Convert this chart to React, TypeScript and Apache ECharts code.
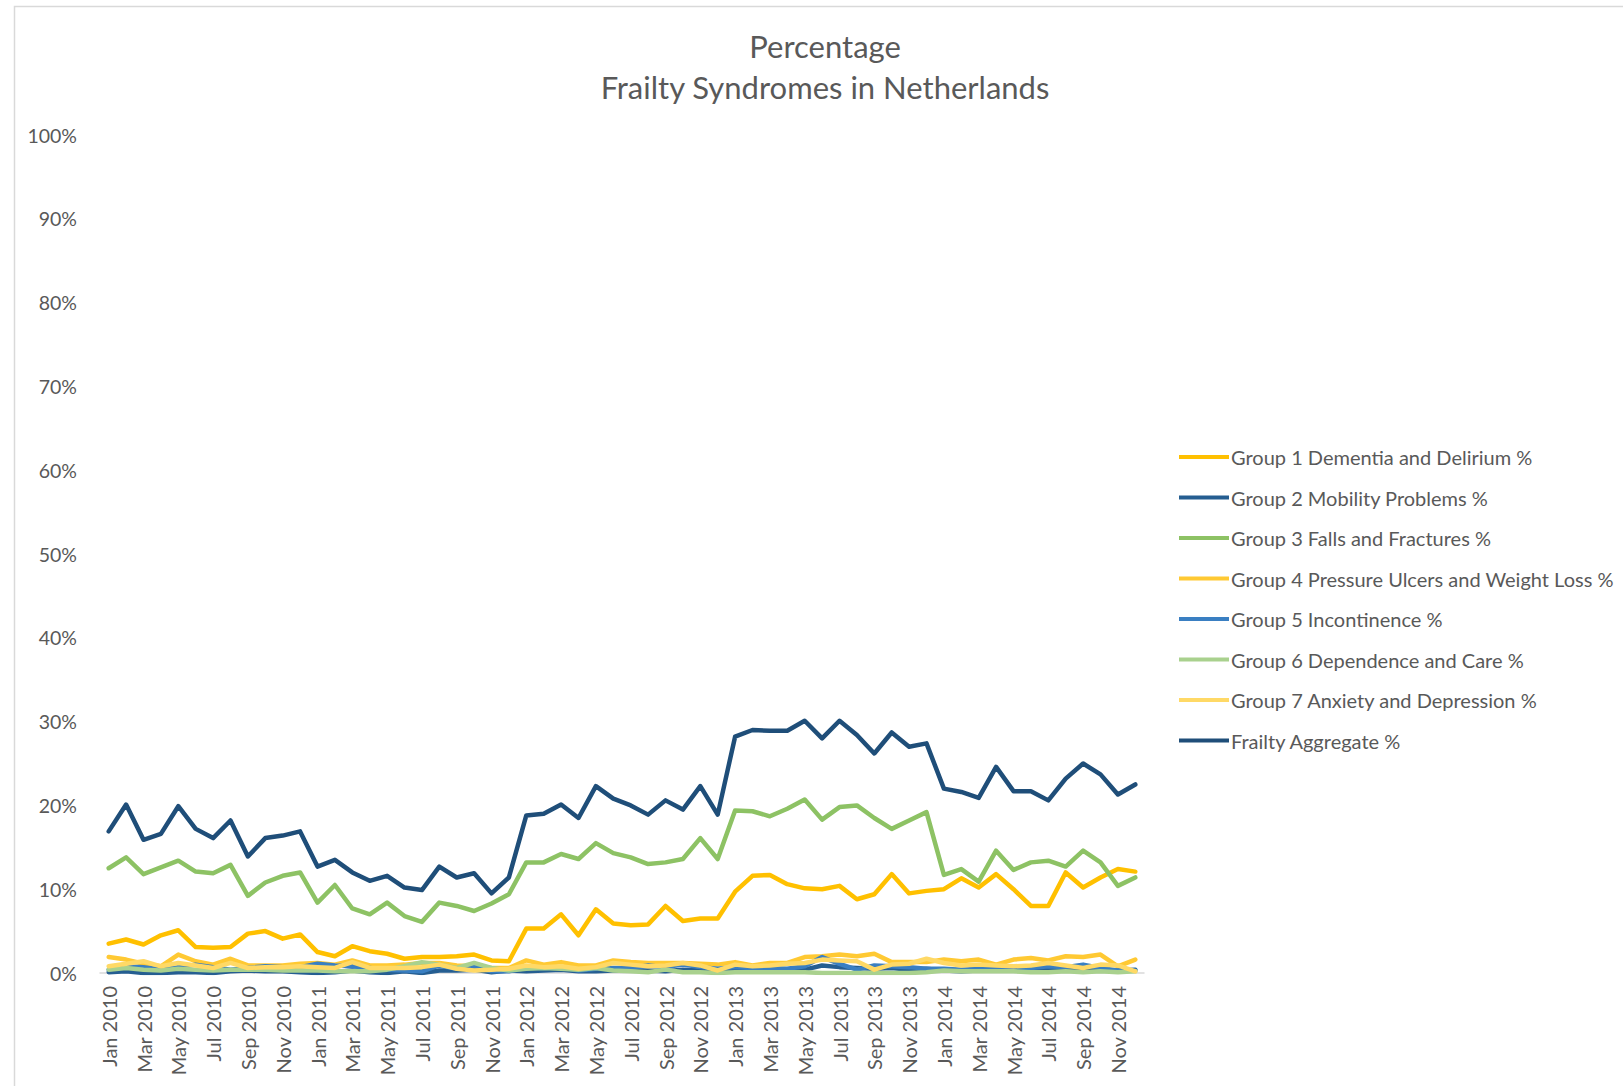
import React, { useEffect, useRef } from "react";
import * as echarts from "echarts";

const months = ["Jan", "Feb", "Mar", "Apr", "May", "Jun", "Jul", "Aug", "Sep", "Oct", "Nov", "Dec"];
const years = [2010, 2011, 2012, 2013, 2014];
const categories: string[] = [];
years.forEach((y) => months.forEach((m) => categories.push(m + " " + y)));

const yTicks = [0, 10, 20, 30, 40, 50, 60, 70, 80, 90, 100];

const group1 = [
  3.5, 4.0, 3.4, 4.5, 5.1, 3.1, 3.0, 3.1, 4.7, 5.0, 4.1, 4.6,
  2.5, 2.0, 3.2, 2.6, 2.3, 1.7, 1.9, 1.9, 2.0, 2.2, 1.5, 1.4,
  5.3, 5.3, 7.0, 4.5, 7.6, 5.9, 5.7, 5.8, 8.0, 6.2, 6.5, 6.5,
  9.7, 11.6, 11.7, 10.6, 10.1, 10.0, 10.4, 8.8, 9.4, 11.8, 9.5, 9.8,
  10.0, 11.3, 10.2, 11.8, 10.0, 8.0, 8.0, 12.0, 10.2, 11.4, 12.4, 12.1,
];
const group2 = [
  0.1, 0.2, 0.0, 0.0, 0.1, 0.1, 0.0, 0.2, 0.3, 0.2, 0.2, 0.1,
  0.0, 0.1, 0.3, 0.1, 0.0, 0.2, 0.0, 0.3, 0.3, 0.4, 0.1, 0.3,
  0.2, 0.3, 0.4, 0.2, 0.2, 0.3, 0.3, 0.3, 0.2, 0.4, 0.3, 0.2,
  0.3, 0.4, 0.5, 0.4, 0.4, 0.9, 0.7, 0.6, 0.5, 0.6, 0.4, 0.5,
  0.3, 0.2, 0.3, 0.4, 0.3, 0.3, 0.5, 0.4, 0.6, 0.3, 0.3, 0.4,
];
const group3 = [
  12.5, 13.8, 11.8, 12.6, 13.4, 12.1, 11.9, 12.9, 9.2, 10.8, 11.6, 12.0,
  8.4, 10.5, 7.7, 7.0, 8.4, 6.8, 6.1, 8.4, 8.0, 7.4, 8.3, 9.4,
  13.2, 13.2, 14.2, 13.6, 15.5, 14.3, 13.8, 13.0, 13.2, 13.6, 16.1, 13.6,
  19.4, 19.3, 18.7, 19.6, 20.7, 18.3, 19.8, 20.0, 18.5, 17.2, 18.2, 19.2,
  11.7, 12.4, 10.9, 14.6, 12.3, 13.2, 13.4, 12.7, 14.6, 13.2, 10.4, 11.4,
];
const group4 = [
  1.9, 1.6, 1.1, 0.8, 2.2, 1.4, 1.0, 1.7, 0.9, 0.9, 0.9, 1.1,
  1.2, 1.0, 1.5, 0.9, 0.9, 1.0, 1.2, 1.2, 0.9, 0.8, 0.6, 0.6,
  1.5, 1.0, 1.3, 0.9, 0.9, 1.5, 1.3, 1.2, 1.2, 1.2, 1.1, 1.0,
  1.3, 0.9, 1.2, 1.2, 1.9, 2.0, 2.2, 2.0, 2.3, 1.3, 1.3, 1.3,
  1.6, 1.4, 1.6, 1.0, 1.6, 1.8, 1.5, 2.0, 1.9, 2.2, 0.8, 1.6,
];
const group5 = [
  0.4, 0.8, 0.7, 0.4, 0.7, 1.0, 0.7, 0.4, 0.6, 0.8, 0.7, 0.7,
  1.1, 0.9, 0.8, 0.6, 0.4, 0.3, 0.2, 0.9, 0.5, 0.8, 0.2, 0.2,
  0.6, 0.6, 0.7, 0.3, 0.5, 0.6, 0.6, 0.9, 0.7, 1.0, 0.7, 0.5,
  0.7, 0.6, 0.6, 0.5, 0.8, 1.9, 1.1, 0.4, 0.9, 0.8, 0.7, 0.5,
  0.5, 0.4, 0.5, 0.6, 0.5, 0.6, 0.8, 0.7, 1.0, 0.6, 0.3, 0.3,
];
const group6 = [
  0.4, 0.6, 0.4, 0.3, 0.5, 0.4, 0.3, 0.4, 0.4, 0.4, 0.3, 0.3,
  0.3, 0.2, 0.2, 0.2, 0.4, 0.8, 1.3, 1.0, 0.6, 1.2, 0.6, 0.3,
  0.5, 0.6, 0.5, 0.4, 0.6, 0.3, 0.2, 0.1, 0.4, 0.1, 0.1, 0.0,
  0.1, 0.1, 0.1, 0.1, 0.1, 0.0, 0.0, 0.0, 0.0, 0.0, 0.0, 0.1,
  0.3, 0.2, 0.2, 0.2, 0.2, 0.1, 0.1, 0.2, 0.1, 0.2, 0.1, 0.2,
];
const group7 = [
  0.8, 1.1, 1.4, 0.8, 1.2, 0.9, 0.6, 1.2, 0.6, 0.7, 0.7, 0.8,
  0.7, 0.6, 1.3, 0.6, 0.6, 0.6, 0.7, 1.0, 0.5, 0.3, 0.4, 0.5,
  0.9, 0.7, 0.8, 0.5, 0.7, 1.2, 1.0, 0.8, 0.9, 1.2, 0.9, 0.3,
  1.0, 0.8, 0.9, 1.1, 1.2, 1.6, 1.5, 1.4, 0.4, 1.0, 1.1, 1.7,
  1.2, 0.9, 1.0, 0.9, 0.8, 0.9, 1.2, 0.9, 0.6, 1.0, 0.9, 0.2,
];
const frailty = [
  16.9, 20.1, 15.9, 16.6, 19.9, 17.2, 16.1, 18.2, 13.9, 16.1, 16.4, 16.9,
  12.7, 13.5, 12.0, 11.0, 11.6, 10.2, 9.9, 12.7, 11.4, 11.9, 9.5, 11.4,
  18.8, 19.0, 20.1, 18.5, 22.3, 20.8, 20.0, 18.9, 20.6, 19.5, 22.3, 18.9,
  28.2, 29.0, 28.9, 28.9, 30.1, 28.0, 30.1, 28.4, 26.2, 28.7, 27.0, 27.4,
  22.0, 21.6, 20.9, 24.6, 21.7, 21.7, 20.6, 23.2, 25.0, 23.7, 21.3, 22.5,
];

const seriesNames = [
  "Group 1 Dementia and Delirium %",
  "Group 2 Mobility Problems %",
  "Group 3 Falls and Fractures %",
  "Group 4 Pressure Ulcers and Weight Loss %",
  "Group 5 Incontinence %",
  "Group 6 Dependence and Care %",
  "Group 7 Anxiety and Depression %",
  "Frailty Aggregate %",
];
const seriesData = [group1, group2, group3, group4, group5, group6, group7, frailty];
const seriesColors = ["#FFC000", "#255E91", "#8DC264", "#FFC933", "#3A7FC2", "#A9D18E", "#FFD966", "#1F4E79"];

const FONT = "Lato, 'Open Sans', sans-serif";

export default function App() {
  const ref = useRef<HTMLDivElement>(null);
  useEffect(() => {
    document.body.style.margin = "0";
    if (!ref.current) return;
    const chart = echarts.init(ref.current, null, { renderer: "svg" });
    chart.setOption({
      animation: false,
      backgroundColor: "#ffffff",
      textStyle: { fontFamily: FONT },
      title: {
        text: "Percentage\nFrailty Syndromes in Netherlands",
        left: 820,
        textAlign: "center",
        top: 20,
        textStyle: { fontFamily: FONT, fontSize: 31, fontWeight: "normal", color: "#595959", lineHeight: 41 },
      },
      graphic: [
        {
          type: "rect",
          shape: { x: 14.5, y: 6.5, width: 1800, height: 1200 },
          style: { fill: "none", stroke: "#D9D9D9", lineWidth: 1.5 },
          silent: true,
          z: -10,
        },
      ],
      legend: {
        orient: "vertical",
        left: 1174,
        top: 442,
        icon: "rect",
        itemWidth: 50,
        itemHeight: 4,
        itemGap: 20.5,
        data: seriesNames,
        textStyle: { fontFamily: FONT, fontSize: 20, color: "#595959", lineHeight: 20, padding: [0, 0, 0, -3] },
      },
      grid: { left: 100, right: 479, top: 135, bottom: 113, containLabel: false },
      xAxis: {
        type: "category",
        data: categories,
        boundaryGap: true,
        axisLine: { show: true, lineStyle: { color: "#D9D9D9", width: 1.5 } },
        axisTick: { show: false },
        axisLabel: { rotate: 90, interval: 1, fontFamily: FONT, fontSize: 20, color: "#595959", margin: 13 },
        splitLine: { show: false },
      },
      yAxis: {
        type: "value",
        min: yTicks[0],
        max: yTicks[yTicks.length - 1],
        interval: 10,
        axisLine: { show: false },
        axisTick: { show: false },
        splitLine: { show: false },
        axisLabel: { formatter: "{value}%", fontFamily: FONT, fontSize: 19.5, color: "#595959", margin: 23 },
      },
      series: seriesNames.map((name, i) => ({
        name,
        type: "line",
        data: seriesData[i],
        symbol: "none",
        showSymbol: false,
        lineStyle: { color: seriesColors[i], width: 4.5, cap: "round", join: "round" },
        itemStyle: { color: seriesColors[i] },
        z: i === 7 ? 3 : 2,
      })),
    });
    return () => chart.dispose();
  }, []);
  return <div ref={ref} style={{ width: 1623, height: 1086, position: "absolute", left: 0, top: 0 }} />;
}
